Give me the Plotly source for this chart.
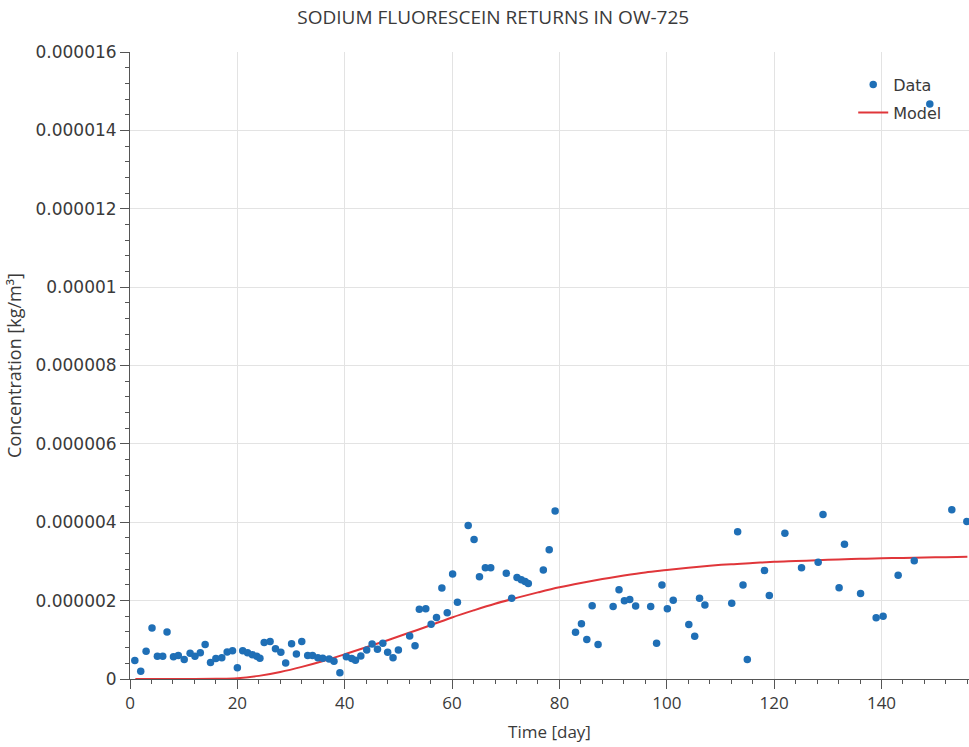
import plotly.graph_objects as go

# Observed sodium fluorescein concentrations at OW-725
obs_day = [0.9, 2.0, 3.0, 4.1, 5.1, 6.1, 6.9, 8.1, 9.0, 10.1, 11.2, 12.1, 13.1, 14.0,
           15.0, 16.0, 17.1, 18.1, 19.1, 20.0, 21.0, 21.9, 22.8, 23.6, 24.2, 25.0, 26.1,
           27.1, 28.1, 29.0, 30.1, 31.0, 32.0, 33.1, 34.0, 35.0, 35.9, 37.1, 38.0, 39.1,
           40.3, 41.3, 42.0, 43.0, 44.1, 45.1, 46.1, 47.1, 48.0, 49.0, 50.0, 52.1, 53.1,
           53.9, 55.1, 56.1, 57.1, 58.1, 59.1, 60.1, 61.0, 63.0, 64.1, 65.1, 66.2, 67.2,
           70.1, 71.1, 72.1, 72.9, 73.6, 74.2, 77.0, 78.1, 79.2, 83.0, 84.1, 85.1, 86.1,
           87.2, 90.0, 91.1, 92.1, 93.1, 94.2, 97.0, 98.1, 99.1, 100.1, 101.2, 104.1,
           105.2, 106.1, 107.1, 112.1, 113.2, 114.2, 115.0, 118.2, 119.1, 122.0, 125.1,
           128.2, 129.1, 132.1, 133.1, 136.1, 139.0, 140.3, 143.1, 146.1, 149.0, 153.1,
           155.9]
obs_conc = [0.47e-6, 0.20e-6, 0.71e-6, 1.30e-6, 0.58e-6, 0.58e-6, 1.20e-6, 0.57e-6,
            0.60e-6, 0.50e-6, 0.66e-6, 0.58e-6, 0.67e-6, 0.88e-6, 0.42e-6, 0.52e-6,
            0.54e-6, 0.69e-6, 0.72e-6, 0.29e-6, 0.72e-6, 0.67e-6, 0.62e-6, 0.58e-6,
            0.53e-6, 0.93e-6, 0.96e-6, 0.77e-6, 0.68e-6, 0.41e-6, 0.90e-6, 0.64e-6,
            0.96e-6, 0.60e-6, 0.60e-6, 0.54e-6, 0.53e-6, 0.51e-6, 0.45e-6, 0.16e-6,
            0.57e-6, 0.52e-6, 0.48e-6, 0.59e-6, 0.74e-6, 0.89e-6, 0.76e-6, 0.91e-6,
            0.68e-6, 0.54e-6, 0.74e-6, 1.10e-6, 0.85e-6, 1.78e-6, 1.79e-6, 1.40e-6,
            1.57e-6, 2.32e-6, 1.69e-6, 2.68e-6, 1.96e-6, 3.92e-6, 3.56e-6, 2.61e-6,
            2.84e-6, 2.84e-6, 2.70e-6, 2.06e-6, 2.59e-6, 2.53e-6, 2.49e-6, 2.44e-6,
            2.78e-6, 3.30e-6, 4.29e-6, 1.19e-6, 1.41e-6, 1.01e-6, 1.87e-6, 0.88e-6,
            1.85e-6, 2.28e-6, 2.00e-6, 2.03e-6, 1.86e-6, 1.85e-6, 0.91e-6, 2.40e-6,
            1.79e-6, 2.01e-6, 1.39e-6, 1.09e-6, 2.06e-6, 1.89e-6, 1.93e-6, 3.76e-6,
            2.40e-6, 0.50e-6, 2.77e-6, 2.13e-6, 3.72e-6, 2.84e-6, 2.98e-6, 4.20e-6,
            2.33e-6, 3.44e-6, 2.18e-6, 1.56e-6, 1.60e-6, 2.65e-6, 3.02e-6, 14.67e-6,
            4.32e-6, 4.02e-6]

# Simulated breakthrough curve
model_day = [1, 4, 8, 12, 16, 20, 24, 28, 32, 36, 40, 44, 48, 52, 56, 60, 64, 68, 72,
             76, 80, 84, 88, 92, 96, 100, 104, 108, 112, 116, 120, 124, 128, 132, 136,
             140, 144, 148, 152, 156]
model_conc = [0.0, 0.0, 0.0, 0.0, 0.005e-6, 0.02e-6, 0.08e-6, 0.18e-6, 0.31e-6, 0.46e-6,
              0.63e-6, 0.81e-6, 0.99e-6, 1.18e-6, 1.37e-6, 1.57e-6, 1.75e-6, 1.92e-6,
              2.07e-6, 2.21e-6, 2.34e-6, 2.45e-6, 2.55e-6, 2.64e-6, 2.72e-6, 2.78e-6,
              2.84e-6, 2.89e-6, 2.93e-6, 2.96e-6, 2.99e-6, 3.01e-6, 3.03e-6, 3.05e-6,
              3.07e-6, 3.08e-6, 3.09e-6, 3.10e-6, 3.11e-6, 3.12e-6]

y_tickvals = [0, 2e-6, 4e-6, 6e-6, 8e-6, 10e-6, 12e-6, 14e-6, 16e-6]
y_ticktext = ["0", "0.000002", "0.000004", "0.000006", "0.000008", "0.00001",
              "0.000012", "0.000014", "0.000016"]
x_tickvals = [0, 20, 40, 60, 80, 100, 120, 140]

AXIS_COLOR = "#555555"
GRID_COLOR = "#e3e3e3"
TEXT_COLOR = "#3a3a3a"

fig = go.Figure()
fig.add_trace(go.Scatter(
    x=model_day, y=model_conc, mode="lines", name="Model",
    line=dict(color="#e0363a", width=2, shape="spline"),
    legendgroup="model", legendrank=2,
))
fig.add_trace(go.Scatter(
    x=obs_day, y=obs_conc, mode="markers", name="Data",
    marker=dict(color="#1f6fb6", size=7.5, line=dict(width=0)),
    legendgroup="data", legendrank=1,
))

fig.update_layout(
    width=969, height=747,
    margin=dict(l=130, r=0, t=52, b=68),
    paper_bgcolor="white", plot_bgcolor="white",
    title=dict(text="SODIUM FLUORESCEIN RETURNS IN OW-725",
               x=0.509, xanchor="center", y=0.977, yanchor="middle",
               font=dict(family="Open Sans", size=19, color=TEXT_COLOR)),
    showlegend=True,
    legend=dict(x=0.862, xanchor="left", y=0.975, yanchor="top",
                traceorder="grouped", tracegroupgap=4,
                bgcolor="rgba(0,0,0,0)",
                font=dict(family="DejaVu Sans", size=16, color=TEXT_COLOR),
                itemwidth=30),
    xaxis=dict(
        range=[0, 156.3], tickvals=x_tickvals, ticks="outside", ticklen=9,
        tickcolor=AXIS_COLOR, tickfont=dict(family="Open Sans", size=17, color=TEXT_COLOR),
        showline=True, linecolor=AXIS_COLOR, linewidth=1,
        showgrid=True, gridcolor=GRID_COLOR, gridwidth=1, zeroline=False,
        minor=dict(dtick=4, ticks="outside", ticklen=4, tickcolor=AXIS_COLOR, showgrid=False),
        title=dict(text="Time [day]", font=dict(family="Open Sans", size=17, color=TEXT_COLOR),
                   standoff=12),
    ),
    yaxis=dict(
        range=[0, 16e-6], tickvals=y_tickvals, ticktext=y_ticktext, ticks="outside",
        ticklen=9, tickcolor=AXIS_COLOR,
        tickfont=dict(family="DejaVu Sans", size=17, color=TEXT_COLOR),
        showline=True, linecolor=AXIS_COLOR, linewidth=1,
        showgrid=True, gridcolor=GRID_COLOR, gridwidth=1, zeroline=False,
        minor=dict(dtick=0.4e-6, ticks="outside", ticklen=4, tickcolor=AXIS_COLOR, showgrid=False),
        title=dict(text="Concentration [kg/m³]",
                   font=dict(family="Open Sans", size=18, color=TEXT_COLOR), standoff=9),
    ),
)

fig.write_html("out.html")
